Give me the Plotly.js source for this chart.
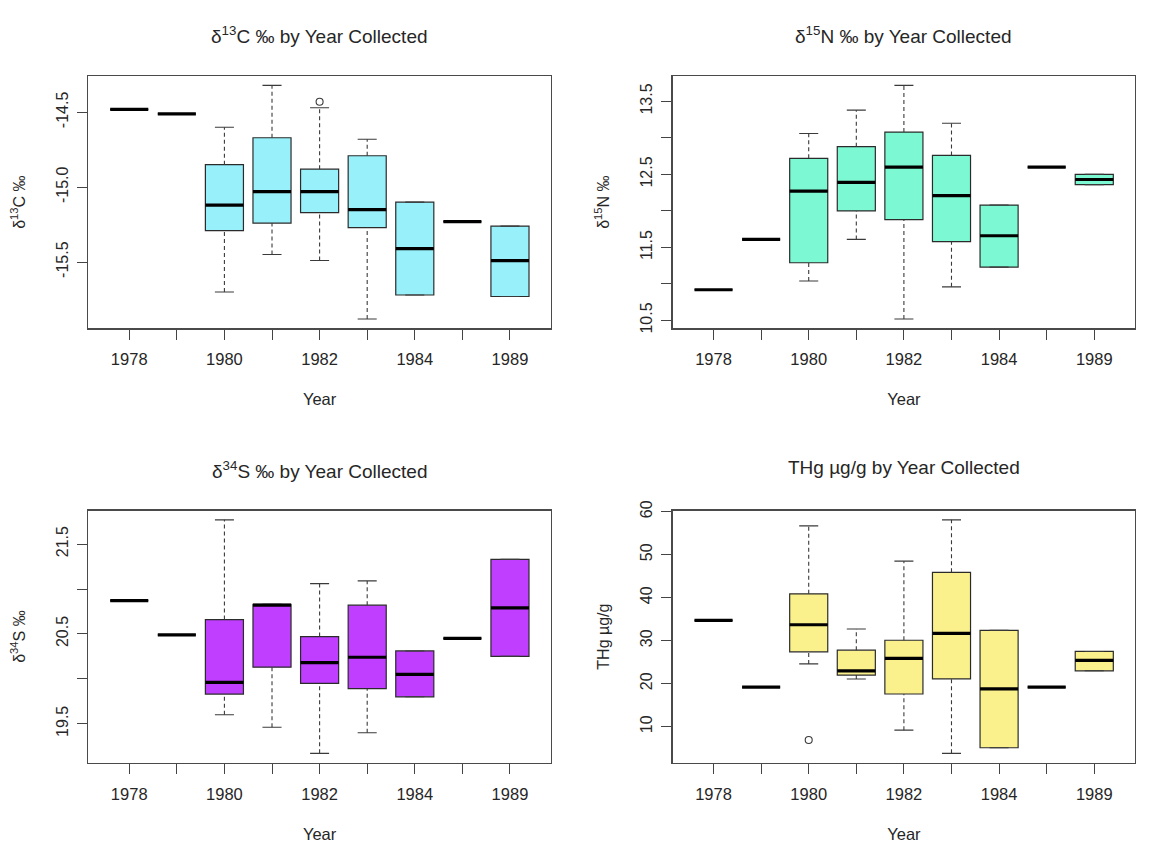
<!DOCTYPE html>
<html><head><meta charset="utf-8">
<script src="https://cdn.plot.ly/plotly-3.0.1.min.js"></script>
<style>html,body{margin:0;padding:0;background:#fff}</style>
</head><body><div id="chart" style="width:1154px;height:844px"></div>
<script>
// Categories (years collected); only every other label is printed, as in the original
const years = ['1978','1979','1980','1981','1982','1983','1984','1985','1989'];
const xTickText = ['1978','','1980','','1982','','1984','','1989'];

// δ13C ‰
const c13Low  = [-14.48,-14.51,-15.70,-15.45,-15.49,-15.88,-15.72,-15.23,-15.73];
const c13Q1   = [-14.48,-14.51,-15.29,-15.24,-15.17,-15.27,-15.72,-15.23,-15.73];
const c13Med  = [-14.48,-14.51,-15.12,-15.03,-15.03,-15.15,-15.41,-15.23,-15.49];
const c13Q3   = [-14.48,-14.51,-14.85,-14.67,-14.88,-14.79,-15.10,-15.23,-15.26];
const c13High = [-14.48,-14.51,-14.60,-14.32,-14.47,-14.68,-15.10,-15.23,-15.26];
const c13OutYear = ['1982'];
const c13OutVal  = [-14.43];
const c13Ticks = [-15.5,-15.0,-14.5];
const c13TickText = ['-15.5','-15.0','-14.5'];

// δ15N ‰
const n15Low  = [10.92,11.61,11.04,11.61,10.52,10.96,11.23,12.60,12.36];
const n15Q1   = [10.92,11.61,11.29,12.00,11.88,11.58,11.23,12.60,12.36];
const n15Med  = [10.92,11.61,12.27,12.39,12.60,12.21,11.66,12.60,12.43];
const n15Q3   = [10.92,11.61,12.72,12.88,13.08,12.76,12.08,12.60,12.50];
const n15High = [10.92,11.61,13.06,13.38,13.72,13.20,12.08,12.60,12.50];
const n15OutYear = [];
const n15OutVal  = [];
const n15Ticks = [10.5,11.0,11.5,12.0,12.5,13.0,13.5];
const n15TickText = ['10.5','','11.5','','12.5','','13.5'];

// δ34S ‰
const s34Low  = [20.87,20.49,19.60,19.46,19.17,19.40,19.80,20.45,20.25];
const s34Q1   = [20.87,20.49,19.83,20.13,19.95,19.89,19.80,20.45,20.25];
const s34Med  = [20.87,20.49,19.96,20.82,20.18,20.24,20.05,20.45,20.79];
const s34Q3   = [20.87,20.49,20.66,20.83,20.47,20.82,20.31,20.45,21.33];
const s34High = [20.87,20.49,21.77,20.83,21.06,21.09,20.31,20.45,21.33];
const s34OutYear = [];
const s34OutVal  = [];
const s34Ticks = [19.5,20.0,20.5,21.0,21.5];
const s34TickText = ['19.5','','20.5','','21.5'];

// THg µg/g
const hgLow  = [34.7,19.2,24.6,21.1, 9.2, 3.8, 5.1,19.2,23.0];
const hgQ1   = [34.7,19.2,27.4,22.0,17.6,21.1, 5.1,19.2,23.0];
const hgMed  = [34.7,19.2,33.7,23.0,25.9,31.7,18.8,19.2,25.4];
const hgQ3   = [34.7,19.2,40.9,27.8,30.1,45.9,32.4,19.2,27.5];
const hgHigh = [34.7,19.2,56.7,32.7,48.5,58.1,32.4,19.2,27.5];
const hgOutYear = ['1980'];
const hgOutVal  = [6.9];
const hgTicks = [10,20,30,40,50,60];
const hgTickText = ['10','20','30','40','50','60'];

const pos = years.map((_, i) => i + 1);
const FONT = 'Liberation Sans, Arial, sans-serif';
const TXT = '#262626';

function panelTraces(n, low, q1, med, q3, high, outYear, outVal, fill) {
  const xa = 'x' + (n === 1 ? '' : n), ya = 'y' + (n === 1 ? '' : n);
  const traces = [];
  traces.push({type:'box', x:pos, q1:q1, median:med, q3:q3, lowerfence:q1, upperfence:q3,
    width:0.8, whiskerwidth:0, fillcolor:fill, line:{color:'#2b2b2b', width:1.2},
    xaxis:xa, yaxis:ya, hoverinfo:'skip', showlegend:false, boxpoints:false});
  const wx = [], wy = [], cx = [], cy = [], mx = [], my = [];
  pos.forEach((p, i) => {
    wx.push(p, p, null, p, p, null);
    wy.push(low[i], q1[i], null, q3[i], high[i], null);
    cx.push(p - 0.2, p + 0.2, null, p - 0.2, p + 0.2, null);
    cy.push(low[i], low[i], null, high[i], high[i], null);
    mx.push(p - 0.4, p + 0.4, null);
    my.push(med[i], med[i], null);
  });
  traces.push({type:'scatter', mode:'lines', x:wx, y:wy, line:{color:'#3a3a3a', width:1.1, dash:'4px,3px'},
    xaxis:xa, yaxis:ya, hoverinfo:'skip', showlegend:false});
  traces.push({type:'scatter', mode:'lines', x:cx, y:cy, line:{color:'#3a3a3a', width:1.1},
    xaxis:xa, yaxis:ya, hoverinfo:'skip', showlegend:false});
  traces.push({type:'scatter', mode:'lines', x:mx, y:my, line:{color:'#000', width:3.2},
    xaxis:xa, yaxis:ya, hoverinfo:'skip', showlegend:false});
  if (outVal.length) {
    traces.push({type:'scatter', mode:'markers', x:outYear.map(y => years.indexOf(y) + 1), y:outVal,
      marker:{symbol:'circle-open', size:7, color:'#3a3a3a', line:{width:1.1}},
      xaxis:xa, yaxis:ya, hoverinfo:'skip', showlegend:false});
  }
  return traces;
}

function rRange(arrs) {
  const all = [].concat(...arrs);
  const mn = Math.min(...all), mx = Math.max(...all), r = mx - mn;
  return [mn - 0.04 * r, mx + 0.04 * r];
}
const xr = [0.5 - 0.04 * years.length, years.length + 0.5 + 0.04 * years.length];

// labelled ticks are major ticks; unlabelled ones are drawn as minor ticks of the same length
function splitTicks(vals, texts) {
  const mv = [], mt = [], nv = [];
  vals.forEach((v, i) => { if (texts[i] !== '') { mv.push(v); mt.push(texts[i]); } else nv.push(v); });
  return {mv, mt, nv};
}

function xAxis(dom, anchor) {
  const t = splitTicks(pos, xTickText);
  return {domain:dom, anchor:anchor, range:xr, tickmode:'array', tickvals:t.mv, ticktext:t.mt,
    minor:{tickmode:'array', tickvals:t.nv, ticks:'outside', ticklen:10, tickcolor:'#444', tickwidth:1, showgrid:false},
    ticks:'outside', ticklen:10, tickcolor:'#444', tickwidth:1, showline:true, mirror:true,
    linecolor:'#4a4a4a', linewidth:1.2, showgrid:false, zeroline:false, ticklabelstandoff:6,
    tickfont:{family:FONT, size:16.5, color:TXT},
    title:{text:'Year', font:{family:FONT, size:16.5, color:TXT}, standoff:26}};
}
function yAxis(dom, anchor, range, tv, tt, title) {
  const t = splitTicks(tv, tt);
  return {domain:dom, anchor:anchor, range:range, tickmode:'array', tickvals:t.mv, ticktext:t.mt,
    minor:{tickmode:'array', tickvals:t.nv, ticks:'outside', ticklen:10, tickcolor:'#444', tickwidth:1, showgrid:false},
    tickangle:-90, ticks:'outside', ticklen:10, tickcolor:'#444', tickwidth:1, showline:true, mirror:true,
    linecolor:'#4a4a4a', linewidth:1.2, showgrid:false, zeroline:false, ticklabelstandoff:3,
    tickfont:{family:FONT, size:16, color:TXT},
    title:{text:title, font:{family:FONT, size:16, color:TXT}, standoff:24}};
}

const W = 1154, H = 844;
const xdL = [88.3 / W, 550.9 / W], xdR = [672.6 / W, 1135.2 / W];
const ydT = [1 - 328.3 / H, 1 - 76 / H], ydB = [1 - 762.7 / H, 1 - 510.5 / H];

const data = [].concat(
  panelTraces(1, c13Low, c13Q1, c13Med, c13Q3, c13High, c13OutYear, c13OutVal, '#98F0FA'),
  panelTraces(2, n15Low, n15Q1, n15Med, n15Q3, n15High, n15OutYear, n15OutVal, '#7CF9D2'),
  panelTraces(3, s34Low, s34Q1, s34Med, s34Q3, s34High, s34OutYear, s34OutVal, '#BF3EFF'),
  panelTraces(4, hgLow, hgQ1, hgMed, hgQ3, hgHigh, hgOutYear, hgOutVal, '#FAF08C')
);

const titles = ['δ<sup>13</sup>C ‰ by Year Collected', 'δ<sup>15</sup>N ‰ by Year Collected',
                'δ<sup>34</sup>S ‰ by Year Collected', 'THg µg/g by Year Collected'];
const titleY = [1 - 35 / H, 1 - 35 / H, 1 - 470 / H, 1 - 468 / H];
const titleX = [(xdL[0] + xdL[1]) / 2, (xdR[0] + xdR[1]) / 2, (xdL[0] + xdL[1]) / 2, (xdR[0] + xdR[1]) / 2];

const layout = {
  width:W, height:H, margin:{l:0, r:0, t:0, b:0},
  paper_bgcolor:'#fff', plot_bgcolor:'#fff', showlegend:false, boxmode:'overlay',
  font:{family:FONT, color:TXT},
  xaxis: xAxis(xdL, 'y'),
  yaxis: yAxis(ydT, 'x', rRange([c13Low, c13High, c13OutVal]), c13Ticks, c13TickText, 'δ<sup>13</sup>C ‰'),
  xaxis2: xAxis(xdR, 'y2'),
  yaxis2: yAxis(ydT, 'x2', rRange([n15Low, n15High, n15OutVal]), n15Ticks, n15TickText, 'δ<sup>15</sup>N ‰'),
  xaxis3: xAxis(xdL, 'y3'),
  yaxis3: yAxis(ydB, 'x3', rRange([s34Low, s34High, s34OutVal]), s34Ticks, s34TickText, 'δ<sup>34</sup>S ‰'),
  xaxis4: xAxis(xdR, 'y4'),
  yaxis4: yAxis(ydB, 'x4', rRange([hgLow, hgHigh, hgOutVal]), hgTicks, hgTickText, 'THg µg/g'),
  annotations: titles.map((t, i) => ({text:t, xref:'paper', yref:'paper', x:titleX[i], y:titleY[i],
    xanchor:'center', yanchor:'middle', showarrow:false, font:{family:FONT, size:19, color:TXT}}))
};

Plotly.newPlot('chart', data, layout, {staticPlot:true, displayModeBar:false});
</script>
</body></html>
